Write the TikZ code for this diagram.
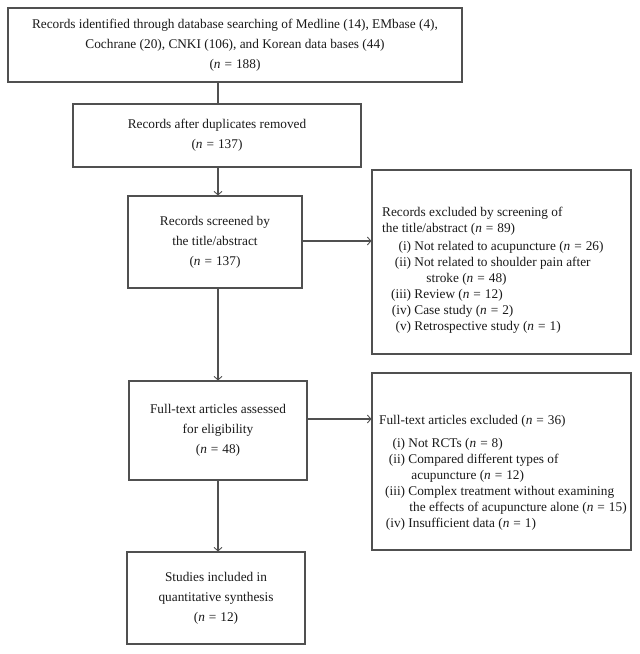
\documentclass[tikz,border=0pt]{standalone}
\usepackage{fontspec}
\setmainfont{Liberation Serif}
\usetikzlibrary{arrows.meta,calc}
\definecolor{linec}{HTML}{505050}
\definecolor{txtc}{HTML}{1A1A1A}
\newcommand{\nval}[1]{(\textit{n}\hspace{.3em}=\hspace{.3em}#1)}
\begin{document}
\begin{tikzpicture}[x=1pt,y=-1pt,
  box/.style={draw=linec, line width=1.1pt, inner sep=0pt, align=center, text=txtc,
              font=\fontsize{13.3}{20}\selectfont},
  listtext/.style={anchor=north west, inner sep=0pt, text=txtc, align=left,
              font=\fontsize{13.3}{16}\selectfont},
  conn/.style={draw=linec, line width=1.1pt},
  arr/.style={conn, -{Straight Barb[length=3.5pt,width=8pt,line width=0.9pt]}}]
\useasboundingbox (0,0) rectangle (640,654);
\fill[white] (0,0) rectangle (640,654);

\node[box, minimum width=454pt, minimum height=74pt] (rec) at (235,45)
  {\raisebox{0pt}[0pt][0pt]{}Records identified through database searching of Medline (14), EMbase (4),\\
   Cochrane (20), CNKI (106), and Korean data bases (44)\\
   \nval{188}};
\node[box, minimum width=288pt, minimum height=63pt] (dup) at (217,135.5)
  {Records after duplicates removed\\\nval{137}};
\node[box, minimum width=174pt, minimum height=92pt] (scr) at (215,242)
  {Records screened by\\the title/abstract\\\nval{137}};
\node[box, minimum width=178pt, minimum height=99pt] (full) at (218,430.5)
  {Full-text articles assessed\\for eligibility\\\nval{48}};
\node[box, minimum width=178pt, minimum height=92pt] (inc) at (216,598)
  {Studies included in\\quantitative synthesis\\\nval{12}};

\node[box, minimum width=259pt, minimum height=184pt] (ex1) at (501.5,262) {};
\node[box, minimum width=259pt, minimum height=177pt] (ex2) at (501.5,461.5) {};

\node[listtext] (ex1t) at (382,205) {%
\begin{tabular}{@{\hspace{9pt}}r@{\ }l@{}}
\multicolumn{2}{@{}l@{}}{Records excluded by screening of}\\
\multicolumn{2}{@{}l@{}}{the title/abstract \nval{89}}\\[2pt]
(i) & Not related to acupuncture \nval{26}\\
(ii) & Not related to shoulder pain after\\
 & \hspace{12pt}stroke \nval{48}\\
(iii) & Review \nval{12}\\
(iv) & Case study \nval{2}\\
(v) & Retrospective study \nval{1}
\end{tabular}};

\node[listtext] (ex2t) at (379,413) {%
\begin{tabular}{@{\hspace{6pt}}r@{\ }l@{}}
\multicolumn{2}{@{}l@{}}{Full-text articles excluded \nval{36}}\\[7pt]
(i) & Not RCTs \nval{8}\\
(ii) & Compared different types of\\
 & \hspace{3pt}acupuncture \nval{12}\\
(iii) & Complex treatment without examining\\
 & \hspace{1pt}the effects of acupuncture alone \nval{15}\\
(iv) & Insufficient data \nval{1}
\end{tabular}};

\coordinate (spine) at (218,0);
\coordinate (h1) at (0,241);
\coordinate (h2) at (0,419);
\draw[conn] (rec.south -| spine) -- (dup.north -| spine);
\draw[arr] (dup.south -| spine) -- (scr.north -| spine);
\draw[arr] (scr.south -| spine) -- (full.north -| spine);
\draw[arr] (full.south -| spine) -- (inc.north -| spine);
\draw[arr] (scr.east |- h1) -- (ex1.west |- h1);
\draw[arr] (full.east |- h2) -- (ex2.west |- h2);
\end{tikzpicture}
\end{document}
